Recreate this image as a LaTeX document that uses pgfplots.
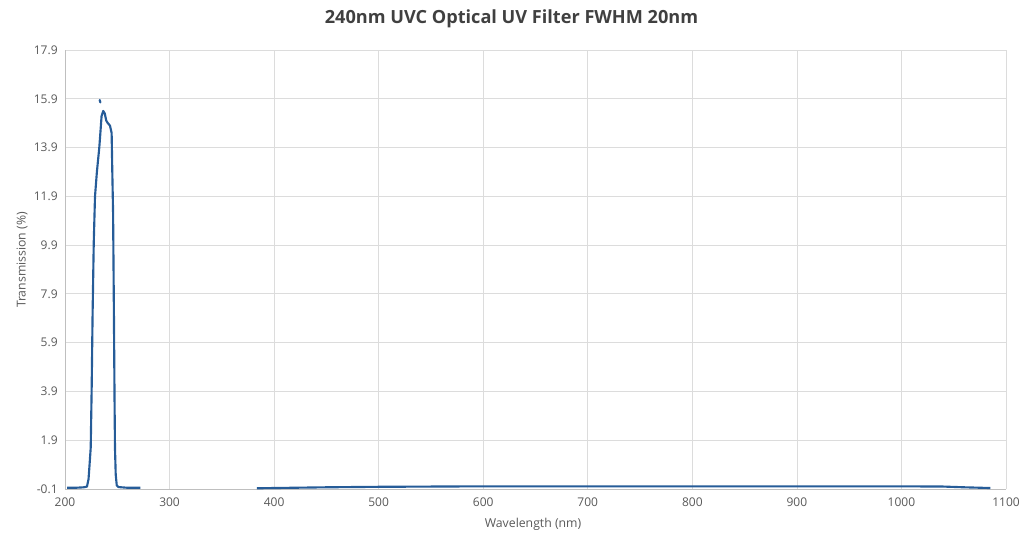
\documentclass[border=0pt]{standalone}
\usepackage{fontspec}
\setmainfont{Open Sans}
\usepackage{pgfplots}
\pgfplotsset{compat=1.18}
\definecolor{linecol}{RGB}{38,92,152}
\definecolor{txt}{RGB}{89,89,89}
\definecolor{ttl}{RGB}{64,64,64}
\definecolor{gridc}{RGB}{220,220,220}
\definecolor{axc}{RGB}{191,191,191}
\begin{document}
\begin{tikzpicture}
\useasboundingbox (0,0) rectangle (767.25pt,399.75pt);
\begin{axis}[
    at={(48.75pt,33pt)}, anchor=south west,
    width=705.75pt, height=329.25pt, scale only axis,
    xmin=200, xmax=1100, ymin=-0.1, ymax=17.9,
    xtick={200,300,...,1100},
    ytick={-0.1,1.9,3.9,5.9,7.9,9.9,11.9,13.9,15.9,17.9},
    yticklabels={-0.1,1.9,3.9,5.9,7.9,9.9,11.9,13.9,15.9,17.9},
    /pgf/number format/assume math mode=true,
    /pgf/number format/set thousands separator={},
    xticklabel style={font=\fontsize{9}{10}\selectfont, text=txt, yshift=-3pt},
    yticklabel style={font=\fontsize{9}{10}\selectfont, text=txt, xshift=-2pt},
    xmajorgrids, ymajorgrids,
    grid style={gridc, line width=0.6pt},
    axis line style={axc, line width=0.75pt},
    axis x line*=bottom, axis y line*=left,
    major tick length=0pt,
]
\addplot[linecol, line width=1.6pt, line join=round] coordinates {
  (202,-0.05) (210,-0.05) (218,-0.03) (221,0.0) (222.5,0.3) (223.5,0.9)
  (224.6,1.6) (225.5,4.0) (226.4,7.1) (227.5,10.0) (228.7,11.9) (230.5,12.9)
  (232.8,13.9) (234,14.6) (235,15.2) (236.6,15.4) (238,15.3) (239.5,15.0)
  (241,14.9) (243,14.8) (244.6,14.5) (245.2,13.0) (246,11.2) (246.8,7.0)
  (247.4,3.5) (247.8,1.6) (248.5,0.5) (249.5,0.05) (251,-0.02) (260,-0.05)
  (272,-0.05)
};
\addplot[linecol, line width=1.6pt, line cap=round] coordinates {
  (233.2,15.85) (233.8,15.75)
};
\addplot[linecol, line width=1.6pt] coordinates {
  (383.5,-0.07) (400,-0.06) (450,-0.03) (500,-0.01) (550,0.0) (600,0.01)
  (700,0.01) (800,0.01) (900,0.01) (1000,0.01) (1040,0.0) (1060,-0.03)
  (1085,-0.06)
};
\end{axis}
\node[font=\fontsize{13.6}{15}\selectfont\bfseries, text=ttl] at (383.6pt,385.5pt) {240nm UVC Optical UV Filter FWHM 20nm};
\node[font=\fontsize{9.2}{10}\selectfont, text=txt, rotate=90] at (16.5pt,204.75pt) {Transmission (\%)};
\node[font=\fontsize{9.2}{10}\selectfont, text=txt] at (399.75pt,6.75pt) {Wavelength (nm)};
\end{tikzpicture}
\end{document}
